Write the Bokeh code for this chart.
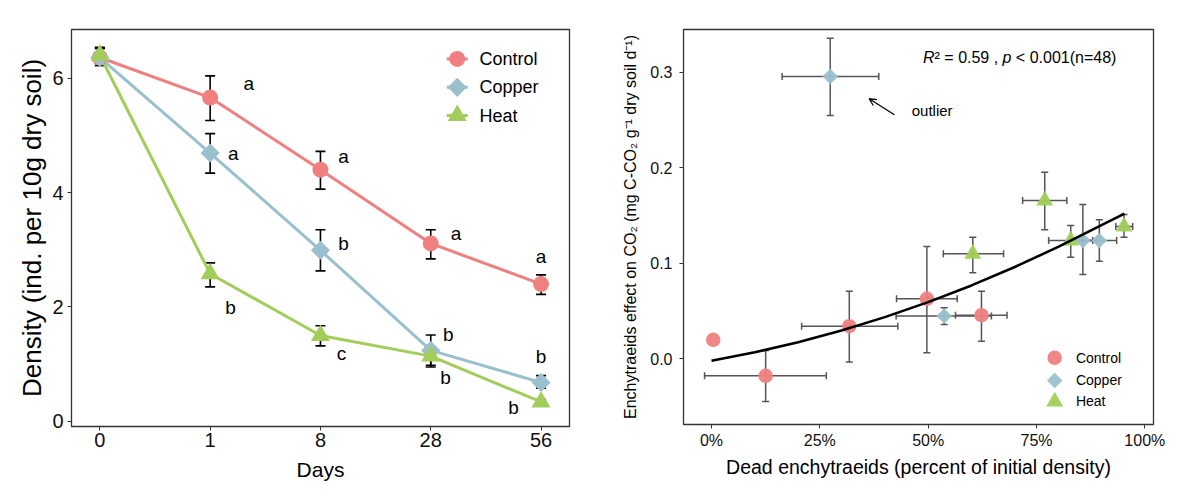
import math
from bokeh.plotting import figure
from bokeh.models import (Whisker, TeeHead, ColumnDataSource, Label, Arrow, OpenHead,
                          FixedTicker, Range1d, NumeralTickFormatter)
from bokeh.layouts import row
from bokeh.embed import file_html
from bokeh.resources import INLINE
from bokeh.core.properties import value

FONT = "Liberation Sans"

# ---------------- Left panel data: density over time ----------------
days = ["0", "1", "8", "28", "56"]
treatments = ["Control", "Copper", "Heat"]
control_mean = [6.36, 5.66, 4.40, 3.11, 2.40]
control_lo = [6.22, 5.26, 4.06, 2.84, 2.22]
control_hi = [6.52, 6.04, 4.72, 3.35, 2.56]
copper_mean = [6.36, 4.69, 2.99, 1.24, 0.68]
copper_lo = [6.22, 4.34, 2.63, 0.98, 0.58]
copper_hi = [6.52, 5.03, 3.35, 1.51, 0.80]
heat_mean = [6.40, 2.58, 1.50, 1.14, 0.34]
heat_lo = [6.26, 2.35, 1.32, 0.95, 0.30]
heat_hi = [6.54, 2.77, 1.67, 1.30, 0.38]

# significance letters (days 1..56) and their placement (x index, y value)
control_letters = ["a", "a", "a", "a"]
copper_letters = ["a", "b", "b", "b"]
heat_letters = ["b", "c", "b", "b"]
control_letter_xy = [(1.35, 5.90), (2.21, 4.63), (3.23, 3.28), (4.00, 2.88)]
copper_letter_xy = [(1.21, 4.68), (2.21, 3.11), (3.16, 1.52), (4.00, 1.135)]
heat_letter_xy = [(1.185, 1.99), (2.19, 1.19), (3.135, 0.77), (3.75, 0.25)]

# ---------------- Right panel data: CO2 effect vs dead enchytraeids ----------------
ctrl_x = [0.4, 12.5, 31.8, 49.7, 62.3]
ctrl_y = [0.0199, -0.0178, 0.0341, 0.0628, 0.0456]
ctrl_xmin = [float("nan"), -1.6, 20.8, 42.7, 56.3]
ctrl_xmax = [float("nan"), 26.5, 43.0, 56.7, 68.2]
ctrl_ymin = [float("nan"), -0.0447, -0.0035, 0.0063, 0.0184]
ctrl_ymax = [float("nan"), 0.0087, 0.0708, 0.1175, 0.0708]

copp_x = [27.4, 53.7, 85.7, 89.5]
copp_y = [0.2955, 0.0447, 0.1238, 0.1238]
copp_xmin = [16.3, 42.6, 82.6, 85.5]
copp_xmax = [38.6, 64.6, 88.8, 93.5]
copp_ymin = [0.2547, 0.0359, 0.0882, 0.1022]
copp_ymax = [0.3356, 0.0534, 0.1615, 0.1455]

heat_x = [60.3, 76.9, 82.9, 95.2]
heat_y = [0.1099, 0.1657, 0.1238, 0.1385]
heat_xmin = [53.5, 71.8, 77.8, 93.3]
heat_xmax = [67.4, 82.0, 88.0, 97.2]
heat_ymin = [0.0900, 0.1350, 0.1064, 0.1273]
heat_ymax = [0.1273, 0.1953, 0.1395, 0.1510]

# fitted curve
fit_x = [0, 10, 20, 30, 40, 50, 60, 70, 80, 90, 95.3]
fit_y = [-0.002, 0.0068, 0.0173, 0.0295, 0.0436, 0.0593, 0.0768, 0.0961, 0.1171, 0.1399, 0.152]

pct_ticks = [0, 25, 50, 75, 100]
co2_ticks = [0.0, 0.1, 0.2, 0.3]

colors = {"Control": "#F08080", "Copper": "#9AC0CD", "Heat": "#A2CD5A"}


def style_axes(p, tick_size, title_size):
    p.xgrid.visible = False
    p.ygrid.visible = False
    p.outline_line_color = "#333333"
    p.outline_line_width = 1.3
    for ax in (p.xaxis[0], p.yaxis[0]):
        ax.axis_line_color = None
        ax.major_tick_in = 0
        ax.major_tick_out = 4
        ax.major_tick_line_color = "#333333"
        ax.minor_tick_line_color = None
        ax.major_label_text_font = FONT
        ax.major_label_text_font_size = f"{tick_size}px"
        ax.major_label_text_color = "#111111"
        ax.axis_label_text_font = FONT
        ax.axis_label_text_font_style = "normal"
        ax.axis_label_text_color = "#000000"
        ax.axis_label_text_font_size = f"{title_size}px"


def add_marker(p, kind, x, y, color, size, alpha=1.0):
    if kind == "circle":
        return p.scatter(x, y, marker="circle", size=size, fill_color=color,
                         line_color=None, fill_alpha=alpha)
    if kind == "diamond":
        return p.scatter(x, y, marker="square", angle=math.pi / 4, size=size,
                         fill_color=color, line_color=None, fill_alpha=alpha)
    return p.scatter(x, y, marker="triangle", size=size, fill_color=color,
                     line_color=None, fill_alpha=alpha)


# ======================= LEFT PANEL =======================
p1 = figure(frame_width=498, frame_height=397,
            x_range=Range1d(-0.257, 4.258), y_range=Range1d(-0.09, 6.85),
            output_backend="svg", toolbar_location=None,
            min_border_left=71, min_border_top=29, min_border_right=29, min_border_bottom=40)
style_axes(p1, 20, 26)
p1.xaxis.axis_label = "Days"
p1.xaxis.axis_label_text_font_size = "21px"
p1.yaxis.axis_label = "Density (ind. per 10g dry soil)"
pos = list(range(len(days)))
p1.xaxis.ticker = FixedTicker(ticks=pos)
p1.xaxis.major_label_overrides = {i: d for i, d in enumerate(days)}
p1.yaxis.ticker = FixedTicker(ticks=[0, 2, 4, 6])
p1.xaxis.major_label_standoff = 2
p1.yaxis.major_label_standoff = 4
p1.xaxis.axis_label_standoff = 8
p1.yaxis.axis_label_standoff = 2

left_series = [
    ("Control", "circle", control_mean, control_lo, control_hi, 16),
    ("Copper", "diamond", copper_mean, copper_lo, copper_hi, 13.5),
    ("Heat", "triangle", heat_mean, heat_lo, heat_hi, 19),
]
for name, kind, mean, lo, hi, size in left_series:
    p1.line(pos, mean, line_color=colors[name], line_width=3)
for name, kind, mean, lo, hi, size in left_series:
    src = ColumnDataSource(dict(x=pos, lo=lo, hi=hi))
    p1.add_layout(Whisker(base="x", lower="lo", upper="hi", source=src,
                          line_color="black", line_width=1.6,
                          upper_head=TeeHead(size=10, line_color="black", line_width=1.6),
                          lower_head=TeeHead(size=10, line_color="black", line_width=1.6)))
for name, kind, mean, lo, hi, size in left_series:
    add_marker(p1, kind, pos, mean, colors[name], size)

for letters, xy in ((control_letters, control_letter_xy), (copper_letters, copper_letter_xy),
                    (heat_letters, heat_letter_xy)):
    p1.text(x=[a for a, b in xy], y=[b for a, b in xy], text=letters,
            text_font=value(FONT), text_font_size="19px", text_color="black",
            text_align="center", text_baseline="middle")

# manual legend (left)
leg_x = 3.24
leg_rows = [6.335, 5.839, 5.345]
for (name, kind, mean, lo, hi, size), ly in zip(left_series, leg_rows):
    p1.line([leg_x - 0.095, leg_x + 0.095], [ly, ly], line_color=colors[name], line_width=3)
    add_marker(p1, kind, [leg_x], [ly], colors[name], size)
p1.text(x=[leg_x + 0.202] * 3, y=leg_rows, text=treatments,
        text_font=value(FONT), text_font_size="18px", text_color="black",
        text_align="left", text_baseline="middle")

# ======================= RIGHT PANEL =======================
# frames in a row share their top edge, so the right frame starts at the same top
p2 = figure(frame_width=470, frame_height=395,
            x_range=Range1d(-6.46, 102.0), y_range=Range1d(-0.0688, 0.3447),
            output_backend="svg", toolbar_location=None,
            min_border_left=85, min_border_top=29, min_border_right=15, min_border_bottom=40)
style_axes(p2, 16, 16)
p2.xaxis.axis_label = "Dead enchytraeids (percent of initial density)"
p2.xaxis.axis_label_text_font_size = "19.5px"
p2.yaxis.axis_label = "Enchytraeids effect on CO\u2082 (mg C-CO\u2082 g\u207b\u00b9 dry soil d\u207b\u00b9)"
p2.xaxis.ticker = FixedTicker(ticks=pct_ticks)
p2.xaxis.major_label_overrides = {t: f"{t}%" for t in pct_ticks}
p2.yaxis.ticker = FixedTicker(ticks=co2_ticks)
p2.yaxis.formatter = NumeralTickFormatter(format="0.0")
p2.xaxis.major_label_standoff = 3
p2.yaxis.major_label_standoff = 7
p2.xaxis.axis_label_standoff = 4
p2.yaxis.axis_label_standoff = 8

right_series = [
    ("Control", "circle", ctrl_x, ctrl_y, ctrl_xmin, ctrl_xmax, ctrl_ymin, ctrl_ymax, 14.5),
    ("Copper", "diamond", copp_x, copp_y, copp_xmin, copp_xmax, copp_ymin, copp_ymax, 11),
    ("Heat", "triangle", heat_x, heat_y, heat_xmin, heat_xmax, heat_ymin, heat_ymax, 17),
]
for name, kind, xs, ys, x0, x1, y0, y1, size in right_series:
    add_marker(p2, kind, xs, ys, colors[name], size, alpha=0.95)
ebc = "#555555"
for name, kind, xs, ys, x0, x1, y0, y1, size in right_series:
    src = ColumnDataSource(dict(x=xs, y=ys, x0=x0, x1=x1, y0=y0, y1=y1))
    p2.add_layout(Whisker(base="x", lower="y0", upper="y1", source=src, dimension="height",
                          line_color=ebc, line_width=1.5,
                          upper_head=TeeHead(size=7, line_color=ebc, line_width=1.5),
                          lower_head=TeeHead(size=7, line_color=ebc, line_width=1.5)))
    p2.add_layout(Whisker(base="y", lower="x0", upper="x1", source=src, dimension="width",
                          line_color=ebc, line_width=1.5,
                          upper_head=TeeHead(size=7, line_color=ebc, line_width=1.5),
                          lower_head=TeeHead(size=7, line_color=ebc, line_width=1.5)))
p2.line(fit_x, fit_y, line_color="black", line_width=2.6)

# outlier annotation
p2.add_layout(Arrow(end=OpenHead(size=7, line_width=1.3, line_color="black"),
                    x_start=42.2, y_start=0.2554, x_end=36.4, y_end=0.2722,
                    line_width=1.3, line_color="black"))
p2.add_layout(Label(x=46.2, y=0.26, text="outlier", text_font=FONT, text_font_size="15px",
                    text_baseline="middle", text_color="black"))

# R^2 annotation (pieces, offsets in px so italics can be mixed)
stat_parts = [("R", "italic", 0), ("\u00b2 = 0.59 ,", "normal", 11.6),
              ("p", "italic", 79.6), ("< 0.001(n=48)", "normal", 92.9)]
for txt, style, off in stat_parts:
    p2.add_layout(Label(x=48.8, y=0.3157, x_offset=off, text=txt, text_font=FONT,
                        text_font_size="16px", text_font_style=style,
                        text_baseline="alphabetic", text_color="black"))

# manual legend (right)
rleg_x = 79.2
rleg_rows = [0.001, -0.0227, -0.0447]
for (name, kind, *_rest), ly in zip(right_series, rleg_rows):
    add_marker(p2, kind, [rleg_x], [ly], colors[name], _rest[-1], alpha=0.95)
p2.text(x=[84.1] * 3, y=rleg_rows, text=treatments,
        text_font=value(FONT), text_font_size="14px", text_color="black",
        text_align="left", text_baseline="middle")

layout = row(p1, p2)
open("out.html", "w").write(file_html(layout, INLINE))
